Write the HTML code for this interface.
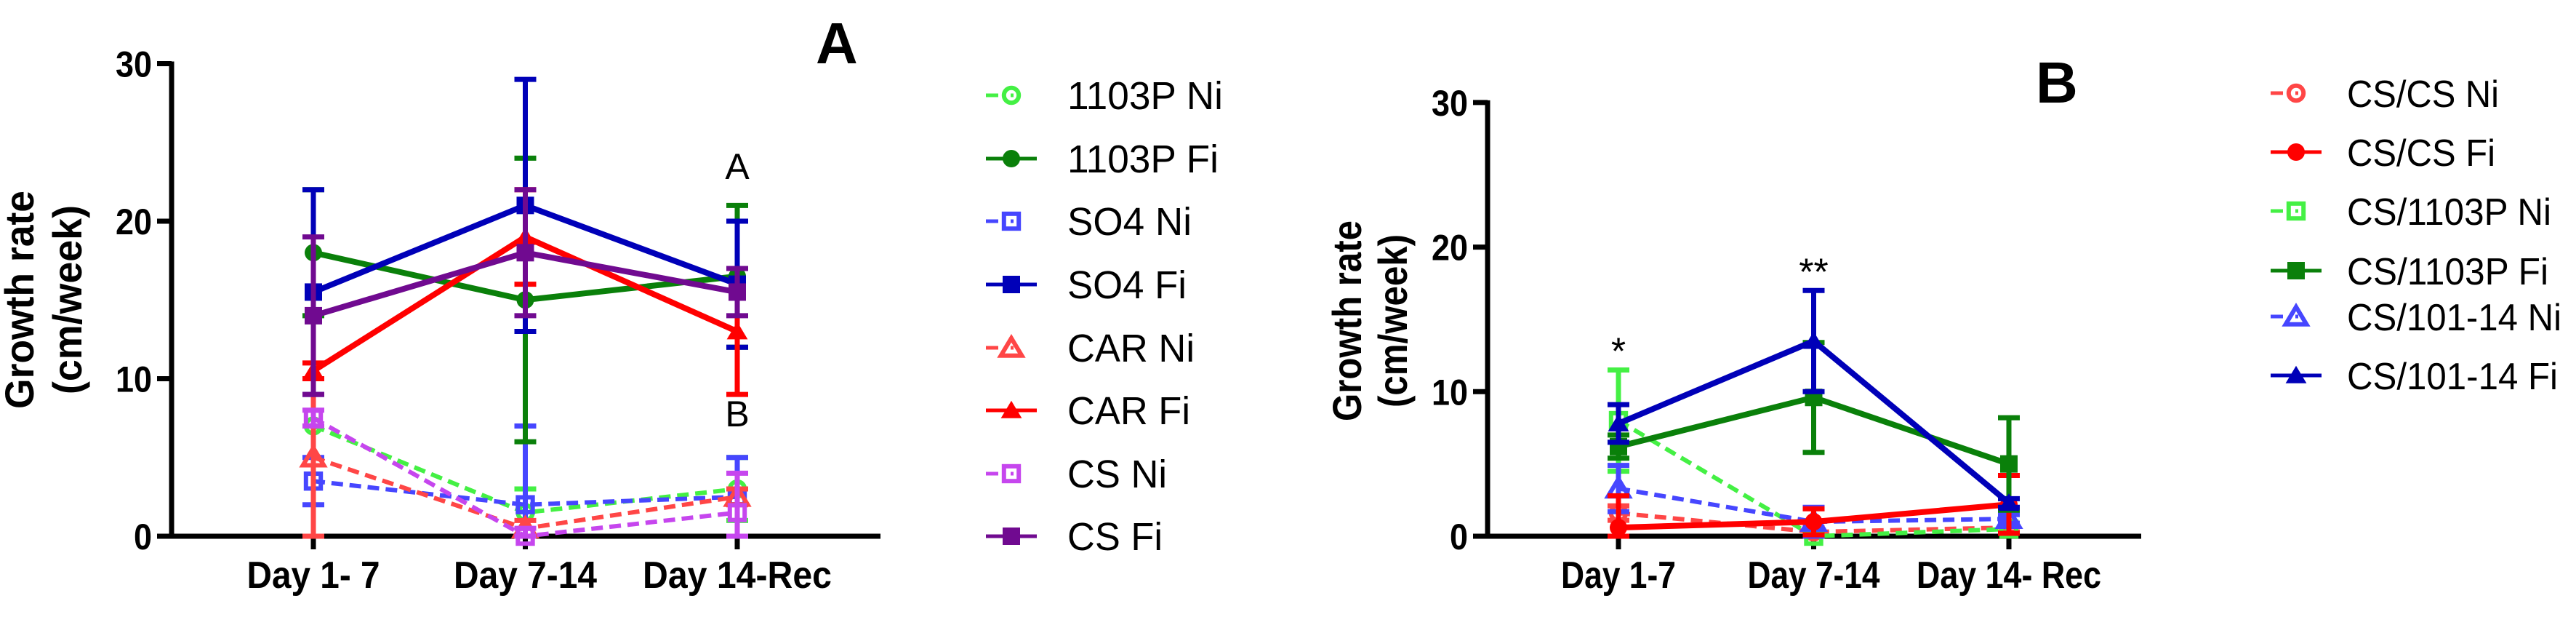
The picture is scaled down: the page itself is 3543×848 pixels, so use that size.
<!DOCTYPE html>
<html><head><meta charset="utf-8"><style>
html,body{margin:0;padding:0;background:#fff;}
svg{display:block;}
text{font-family:"Liberation Sans",Arial,sans-serif;}
</style></head><body>
<svg id="chart" width="3543" height="848" viewBox="0 0 3543 848" xmlns="http://www.w3.org/2000/svg">
<g id="panelA"></g>
<g id="panelB"></g>
</svg>
<script>
// ---------- data ----------
const categoriesA = ["Day 1- 7", "Day 7-14", "Day 14-Rec"];
const categoriesB = ["Day 1-7", "Day 7-14", "Day 14- Rec"];
const yTicks = [0, 10, 20, 30];

const a1103PNi = [7, 1.5, 3];       const a1103PNiErr = [0, 1.5, 2];
const a1103PFi = [18, 15, 16.5];    const a1103PFiErr = [4, 9, 4.5];
const aSO4Ni = [3.5, 2, 2.5];       const aSO4NiErr = [1.5, 5, 2.5];
const aSO4Fi = [15.5, 21, 16];      const aSO4FiErr = [6.5, 8, 4];
const aCARNi = [5, 0.5, 2.5];       const aCARNiErr = [5, 0.5, 0.5];
const aCARFi = [10.5, 19, 13];      const aCARFiErr = [0.5, 3, 4];
const aCSNi = [7.5, 0, 1.5];        const aCSNiErr = [0.5, 0.5, 2.5];
const aCSFi = [14, 18, 15.5];       const aCSFiErr = [5, 4, 1.5];

const bCSCSNi = [1.6, 0.3, 0.6];    const bCSCSNiErr = [0.5, 0.3, 0.3];
const bCSCSFi = [0.6, 1.0, 2.2];    const bCSCSFiErr = [2.2, 0.9, 2];
const b1103PNi = [8.0, 0, 0.5];     const b1103PNiErr = [3.5, 0.2, 0.3];
const b1103PFi = [6.2, 9.6, 5];     const b1103PFiErr = [0.8, 3.8, 3.2];
const b10114Ni = [3.3, 1.0, 1.2];   const b10114NiErr = [1.6, 1.0, 0.3];
const b10114Fi = [7.8, 13.5, 2.3];  const b10114FiErr = [1.3, 3.5, 0.3];

const annotA = ["A", "B"];
const annotAVals = [23.5, 7.8];
const annotB = ["*", "**"];
const annotBVals = [12.8, 18.3];

// ---------- helpers ----------
const NS = "http://www.w3.org/2000/svg";
function mk(tag, attrs, parent) {
  const e = document.createElementNS(NS, tag);
  for (const k in attrs) e.setAttribute(k, attrs[k]);
  parent.appendChild(e);
  return e;
}
function marker(g, shape, cx, cy, color, open, size) {
  let e;
  const s = size;
  if (shape === "circle") {
    e = open ? mk("circle", {cx, cy, r: s * 0.85, fill: "none", stroke: color, "stroke-width": 6}, g)
             : mk("circle", {cx, cy, r: s, fill: color}, g);
  } else if (shape === "square") {
    e = open ? mk("rect", {x: cx - s * 0.85, y: cy - s * 0.85, width: s * 1.7, height: s * 1.7, fill: "none", stroke: color, "stroke-width": 6}, g)
             : mk("rect", {x: cx - s, y: cy - s, width: s * 2, height: s * 2, fill: color}, g);
  } else {
    const pts = `${cx},${cy - s * 1.1} ${cx - s * 1.2},${cy + s * 0.9} ${cx + s * 1.2},${cy + s * 0.9}`;
    e = open ? mk("polygon", {points: pts, fill: "none", stroke: color, "stroke-width": 6}, g)
             : mk("polygon", {points: pts, fill: color}, g);
  }
  return e;
}

function drawPanel(root, cfg) {
  const xs = i => cfg.x0 + i * cfg.dx;
  const ys = v => cfg.y0 - v * cfg.ppu;
  const ax = mk("g", {}, root);
  
  
  mk("line", {x1: cfg.axisX, y1: ys(30) - 3, x2: cfg.axisX, y2: cfg.y0 + 3, stroke: "#000", "stroke-width": 7}, ax);
  mk("line", {x1: cfg.axisX - 3, y1: cfg.y0, x2: cfg.axisEnd, y2: cfg.y0, stroke: "#000", "stroke-width": 7}, ax);
  yTicks.forEach(t => {
    mk("line", {x1: cfg.axisX - 20, y1: ys(t), x2: cfg.axisX, y2: ys(t), stroke: "#000", "stroke-width": 7}, ax);
    const tl = mk("text", {x: cfg.axisX - 27, y: ys(t) + 18, "text-anchor": "end", "font-size": 50, "font-weight": "bold", textLength: String(t).length * 25, lengthAdjust: "spacingAndGlyphs"}, ax);
    tl.textContent = t;
    
    
  });
  cfg.cats.forEach((c, i) => {
    mk("line", {x1: xs(i), y1: cfg.y0, x2: xs(i), y2: cfg.y0 + 18, stroke: "#000", "stroke-width": 7}, ax);
    const xl = mk("text", {x: xs(i), y: 808, "text-anchor": "middle", "font-size": 52, "font-weight": "bold", textLength: cfg.catW[i], lengthAdjust: "spacingAndGlyphs"}, ax);
    xl.textContent = c;
    
    
  });
  const t1 = mk("text", {x: 0, y: 0, "text-anchor": "middle", "font-size": 56, "font-weight": "bold", textLength: cfg.tW[0], lengthAdjust: "spacingAndGlyphs", transform: `translate(${cfg.tX[0]},${cfg.tY}) rotate(-90)`}, root);
  t1.textContent = "Growth rate";
  
  
  const t2 = mk("text", {x: 0, y: 0, "text-anchor": "middle", "font-size": 56, "font-weight": "bold", textLength: cfg.tW[1], lengthAdjust: "spacingAndGlyphs", transform: `translate(${cfg.tX[1]},${cfg.tY}) rotate(-90)`}, root);
  t2.textContent = "(cm/week)";
  
  
  const pl = mk("text", {x: cfg.letter[0], y: cfg.letter[1], "font-size": 80, "font-weight": "bold"}, root);
  pl.textContent = cfg.letter[2];
  
  

  const order = cfg.series.slice().sort((a, b) => (a.open === b.open) ? 0 : (a.open ? -1 : 1));
  order.forEach(s => {
    const g = mk("g", {}, root);
    
    
    s.vals.forEach((v, i) => {
      const e = s.err[i];
      if (e > 0) {
        const eb = mk("line", {x1: xs(i), y1: ys(Math.max(0, v - e)), x2: xs(i), y2: ys(v + e), stroke: s.color, "stroke-width": 7}, g);
        
        
        mk("line", {x1: xs(i) - 15, y1: ys(v + e), x2: xs(i) + 15, y2: ys(v + e), stroke: s.color, "stroke-width": 7}, g);
        mk("line", {x1: xs(i) - 15, y1: ys(Math.max(0, v - e)), x2: xs(i) + 15, y2: ys(Math.max(0, v - e)), stroke: s.color, "stroke-width": 7}, g);
      }
    });
    const pts = s.vals.map((v, i) => `${xs(i)},${ys(v)}`).join(" ");
    const ln = mk("polyline", {points: pts, fill: "none", stroke: s.color, "stroke-width": s.open ? 6 : 8,
      "stroke-dasharray": s.open ? "16 9" : "none"}, g);
    
    
    s.vals.forEach((v, i) => {
      const m = marker(g, s.shape, xs(i), ys(v), s.color, s.open, 12);
      
      
    });
  });
  cfg.annot.forEach((a, k) => {
    const at = mk("text", {x: xs(cfg.annotIdx[k]), y: ys(cfg.annotVals[k]) + 18, "text-anchor": "middle", "font-size": cfg.annotSize}, root);
    at.textContent = a;
    
    
  });
  const lg = mk("g", {}, root);
  
  
  cfg.series.forEach((s, k) => {
    const y = cfg.legY[k];
    const le = mk("g", {}, lg);
    
    
    const lx = cfg.legX;
    if (s.open) {
      mk("line", {x1: lx - 35, y1: y, x2: lx + 35, y2: y, stroke: s.color, "stroke-width": 5, "stroke-dasharray": "17 17 4 100"}, le);
    } else {
      mk("line", {x1: lx - 35, y1: y, x2: lx + 35, y2: y, stroke: s.color, "stroke-width": 5}, le);
    }
    marker(le, s.shape, lx, y, s.color, s.open, 12);
    const tx = mk("text", {x: cfg.legTX, y: y + 19, "font-size": cfg.legFS, textLength: cfg.legW[k], lengthAdjust: "spacingAndGlyphs"}, le);
    tx.textContent = s.name;
  });
}

const panelA = {
  x0: 431, dx: 291.5, y0: 737, ppu: 21.65, axisX: 236, axisEnd: 1211,
  cats: categoriesA, catW: [183, 197, 260],
  tX: [46, 112], tY: 412, tW: [300, 260],
  letter: [1122, 87, "A"],
  annot: annotA, annotIdx: [2, 2], annotVals: annotAVals, annotSize: 50,
  legX: 1391, legTX: 1468, legFS: 54,
  legY: [131, 218, 304, 391, 478, 564, 651, 737],
  legW: [214, 208, 171, 164, 175, 169, 137, 131],
  series: [
    {name: "1103P Ni", vals: a1103PNi, err: a1103PNiErr, color: "#44f044", shape: "circle", open: true},
    {name: "1103P Fi", vals: a1103PFi, err: a1103PFiErr, color: "#0a800a", shape: "circle", open: false},
    {name: "SO4 Ni", vals: aSO4Ni, err: aSO4NiErr, color: "#4646ff", shape: "square", open: true},
    {name: "SO4 Fi", vals: aSO4Fi, err: aSO4FiErr, color: "#0000b8", shape: "square", open: false},
    {name: "CAR Ni", vals: aCARNi, err: aCARNiErr, color: "#ff4646", shape: "triangle", open: true},
    {name: "CAR Fi", vals: aCARFi, err: aCARFiErr, color: "#ff0000", shape: "triangle", open: false},
    {name: "CS Ni", vals: aCSNi, err: aCSNiErr, color: "#c646ee", shape: "square", open: true},
    {name: "CS Fi", vals: aCSFi, err: aCSFiErr, color: "#700a90", shape: "square", open: false}
  ]
};
const panelB = {
  x0: 2226, dx: 268.5, y0: 737, ppu: 19.87, axisX: 2046, axisEnd: 2945,
  cats: categoriesB, catW: [158, 182, 254],
  tX: [1872, 1935], tY: 441, tW: [276, 238],
  letter: [2800, 141, "B"],
  annot: annotB, annotIdx: [0, 1], annotVals: annotBVals, annotSize: 52,
  legX: 3158, legTX: 3228, legFS: 52,
  legY: [128, 209, 290, 372, 435, 516],
  legW: [209, 204, 281, 277, 295, 290],
  series: [
    {name: "CS/CS Ni", vals: bCSCSNi, err: bCSCSNiErr, color: "#ff4646", shape: "circle", open: true},
    {name: "CS/CS Fi", vals: bCSCSFi, err: bCSCSFiErr, color: "#ff0000", shape: "circle", open: false},
    {name: "CS/1103P Ni", vals: b1103PNi, err: b1103PNiErr, color: "#44f044", shape: "square", open: true},
    {name: "CS/1103P Fi", vals: b1103PFi, err: b1103PFiErr, color: "#0a800a", shape: "square", open: false},
    {name: "CS/101-14 Ni", vals: b10114Ni, err: b10114NiErr, color: "#4646ff", shape: "triangle", open: true},
    {name: "CS/101-14 Fi", vals: b10114Fi, err: b10114FiErr, color: "#0000b8", shape: "triangle", open: false}
  ]
};
drawPanel(document.getElementById("panelA"), panelA);
drawPanel(document.getElementById("panelB"), panelB);
</script>
</body></html>
